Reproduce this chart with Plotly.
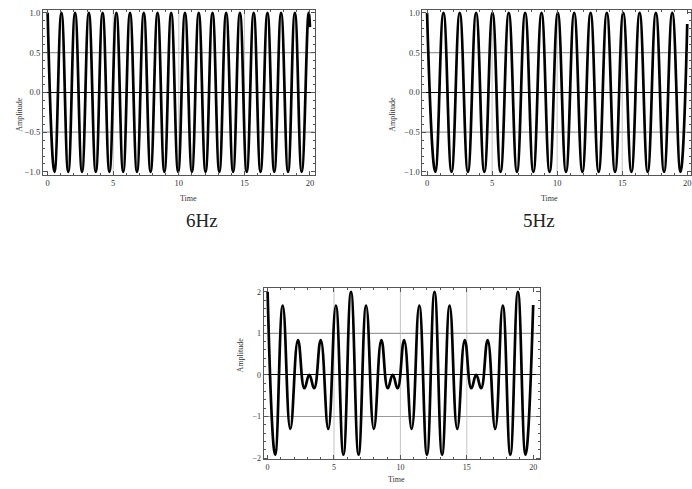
import plotly.graph_objects as go

W, H = 692, 489

# Extrema (time, amplitude)
t_6hz = [0, 0.52, 1.05, 1.57, 2.09, 2.62, 3.14, 3.67, 4.19, 4.71, 5.24, 5.76, 6.28,
         6.81, 7.33, 7.85, 8.38, 8.90, 9.42, 9.95, 10.47, 11.00, 11.52, 12.04, 12.57,
         13.09, 13.61, 14.14, 14.66, 15.18, 15.71, 16.23, 16.76, 17.28, 17.80, 18.33,
         18.85, 19.37, 19.90, 20.0]
a_6hz = [1, -1, 1, -1, 1, -1, 1, -1, 1, -1, 1, -1, 1,
         -1, 1, -1, 1, -1, 1, -1, 1, -1, 1, -1, 1,
         -1, 1, -1, 1, -1, 1, -1, 1, -1, 1, -1,
         1, -1, 1, 0.82]

t_5hz = [0, 0.63, 1.26, 1.88, 2.51, 3.14, 3.77, 4.40, 5.03, 5.65, 6.28, 6.91, 7.54,
         8.17, 8.80, 9.42, 10.05, 10.68, 11.31, 11.94, 12.57, 13.19, 13.82, 14.45,
         15.08, 15.71, 16.34, 16.96, 17.59, 18.22, 18.85, 19.48, 20.0]
a_5hz = [1, -1, 1, -1, 1, -1, 1, -1, 1, -1, 1, -1, 1,
         -1, 1, -1, 1, -1, 1, -1, 1, -1, 1, -1,
         1, -1, 1, -1, 1, -1, 1, -1, 0.86]

t_sum = [0, 0.57, 1.14, 1.71, 2.29, 2.77, 3.14, 3.51, 4.00, 4.57, 5.14, 5.71, 6.28,
         6.85, 7.42, 8.00, 8.57, 9.05, 9.42, 9.79, 10.28, 10.85, 11.42, 12.00, 12.57,
         13.14, 13.71, 14.28, 14.85, 15.34, 15.71, 16.08, 16.57, 17.14, 17.71, 18.28,
         18.85, 19.42, 20.0]
a_sum = [2.0, -1.92, 1.67, -1.30, 0.84, -0.32, 0.0, -0.32, 0.84, -1.30, 1.67, -1.92, 2.0,
         -1.92, 1.67, -1.30, 0.84, -0.32, 0.0, -0.32, 0.84, -1.30, 1.67, -1.92, 2.0,
         -1.92, 1.67, -1.30, 0.84, -0.32, 0.0, -0.32, 0.84, -1.30, 1.67, -1.92,
         2.0, -1.92, 1.68]

panel_titles = ["6Hz", "5Hz"]
grid_top_y = [-0.5, 0.5]
grid_bot_y = [-1, 1]
grid_x = [5, 10, 15]

FONT = "Liberation Serif"
FRAME = "#555555"
GRID = "#9a9a9a"

def px(x):
    return x / W

def py(y):
    return 1 - y / H

fig = go.Figure()

panels = [
    dict(t=t_6hz, a=a_6hz, xd=[43, 315], yd=[8, 175], xr=[-0.36, 20.35], yr=[-1.037, 1.037],
         ydt=0.5, ymin=0.1, fmt=".1f", grid=grid_top_y),
    dict(t=t_5hz, a=a_5hz, xd=[423, 692], yd=[8, 175], xr=[-0.36, 20.29], yr=[-1.037, 1.037],
         ydt=0.5, ymin=0.1, fmt=".1f", grid=grid_top_y),
    dict(t=t_sum, a=a_sum, xd=[264, 541], yd=[290, 463], xr=[-0.3, 20.53], yr=[-2.03, 2.08],
         ydt=1, ymin=0.2, fmt="d", grid=grid_bot_y),
]

for i, p in enumerate(panels, start=1):
    xa = "x" if i == 1 else f"x{i}"
    ya = "y" if i == 1 else f"y{i}"
    fig.add_trace(go.Scatter(x=p["t"], y=p["a"], mode="lines", xaxis=xa, yaxis=ya,
                             line=dict(color="black", width=2.7, shape="spline", smoothing=1.3),
                             showlegend=False, hoverinfo="skip"))
    common = dict(showline=True, linecolor=FRAME, linewidth=1, mirror="ticks",
                  ticks="inside", ticklen=4, tickcolor=FRAME, showgrid=False,
                  ticklabeloverflow="allow",
                  tickfont=dict(family=FONT, size=8.5 if i < 3 else 8, color="#333333"))
    fig.layout[f"xaxis{'' if i == 1 else i}"] = dict(
        domain=[px(p["xd"][0]), min(1.0, px(p["xd"][1]))], anchor=ya, range=p["xr"],
        dtick=5, tick0=0, zeroline=False,
        minor=dict(ticks="inside", ticklen=2, dtick=1, tickcolor=FRAME), **common)
    fig.layout[f"yaxis{'' if i == 1 else i}"] = dict(
        domain=[py(p["yd"][1]), py(p["yd"][0])], anchor=xa, range=p["yr"],
        dtick=p["ydt"], tick0=0, tickformat=p["fmt"], zeroline=True,
        zerolinecolor="black", zerolinewidth=1.2,
        minor=dict(ticks="inside", ticklen=2, dtick=p["ymin"], tickcolor=FRAME), **common)
    for g in p["grid"]:
        fig.add_shape(type="line", xref=f"{xa} domain", yref=ya, x0=0, x1=1, y0=g, y1=g,
                      line=dict(color=GRID, width=1.2), layer="below")
    for g in grid_x:
        fig.add_shape(type="line", xref=xa, yref=f"{ya} domain", x0=g, x1=g, y0=0, y1=1,
                      line=dict(color="#b5b5b5", width=0.8), layer="below")

ann = []
for (x, y) in [(13, 94), (393, 94), (241, 377)]:
    ann.append(dict(x=px(x), y=py(y), text="Amplitude", textangle=-90, showarrow=False,
                    xref="paper", yref="paper", font=dict(family=FONT, size=8, color="#333")))
for (x, y) in [(178, 199), (561, 199)]:
    ann.append(dict(x=px(x), y=py(y), text="Time", showarrow=False,
                    xref="paper", yref="paper", font=dict(family=FONT, size=8, color="#333")))
ann.append(dict(x=px(397), y=py(483.5), text="Time", showarrow=False, yanchor="middle",
                borderpad=0, xref="paper", yref="paper",
                font=dict(family=FONT, size=8, color="#333")))
for (x, y), s in zip([(184, 221), (558, 221)], panel_titles):
    ann.append(dict(x=px(x), y=py(y), text=s, showarrow=False,
                    xref="paper", yref="paper", font=dict(family=FONT, size=19, color="#222")))

fig.update_layout(width=W, height=H, margin=dict(l=0, r=0, t=0, b=0),
                  paper_bgcolor="white", plot_bgcolor="white", annotations=ann)

fig.write_html("out.html", config={"displayModeBar": False},
               post_script="document.body.style.margin='0px';")
